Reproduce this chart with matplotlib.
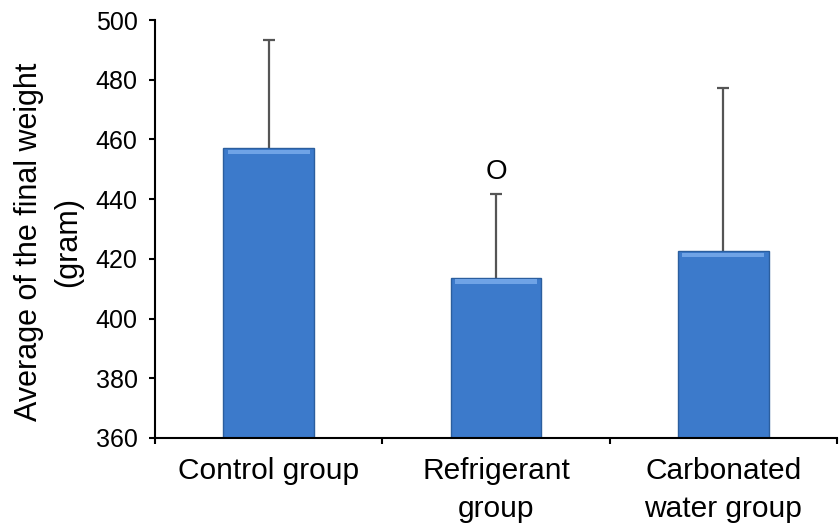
import matplotlib
matplotlib.use("Agg")
import matplotlib.pyplot as plt
import numpy as np

categories = ["Control group", "Refrigerant\ngroup", "Carbonated\nwater group"]
means = [457.2, 413.7, 422.7]
errors_up = [36.2, 28.0, 54.5]
annotations = ["", "O", ""]
yticks = [360, 380, 400, 420, 440, 460, 480, 500]

plt.rcParams['font.family'] = ['Liberation Sans', 'DejaVu Sans']

fig = plt.figure(figsize=(8.39, 5.27), dpi=100)
ax = fig.add_axes([0.1847, 0.1689, 0.813, 0.7931])

x = np.arange(len(categories))
width = 0.40
base = 360

eb = ax.errorbar(x, means, yerr=[np.zeros(len(means)), errors_up], fmt='none',
                 ecolor='#555555', elinewidth=1.6, capsize=4.5, capthick=1.6, zorder=1)
eb[1][0].set_visible(False)
ax.bar(x, np.array(means) - base, bottom=base, width=width, color='#3C7ACB',
       edgecolor='#2B5E9E', linewidth=1.0, zorder=2)
# bevel highlight near top
ax.bar(x, [1.6] * len(x), bottom=np.array(means) - 2.2, width=width * 0.9,
       color='#6FA3E6', linewidth=0, zorder=3)

for xi, m, e, a in zip(x, means, errors_up, annotations):
    if a:
        ax.text(xi, m + e + 3, a, ha='center', va='bottom', fontsize=20)

ax.set_ylim(360, 500)
ax.set_xlim(-0.5, 2.5)
ax.set_yticks(yticks)
ax.tick_params(axis='y', labelsize=18, length=4.5, width=1.5, direction='out', pad=8)

ax.set_xticks([-0.5, 0.5, 1.5, 2.5])
ax.set_xticklabels([])
ax.set_xticks(x, minor=True)
ax.set_xticklabels(categories, minor=True, fontsize=21.5, linespacing=1.45)
ax.tick_params(axis='x', which='major', length=4.5, width=1.5, direction='out')
ax.tick_params(axis='x', which='minor', length=0, pad=14)

for s in ['top', 'right']:
    ax.spines[s].set_visible(False)
for s in ['left', 'bottom']:
    ax.spines[s].set_linewidth(1.5)

ax.set_ylabel("Average of the final weight\n(gram)", fontsize=22, labelpad=9,
              linespacing=1.4)
ax.yaxis.label.set_y(0.47)

fig.savefig("out.png", dpi=100)
